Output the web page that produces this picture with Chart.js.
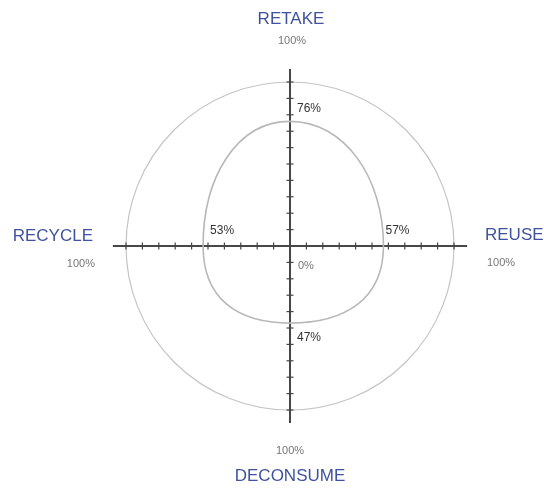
<!DOCTYPE html>
<html>
<head>
<meta charset="utf-8">
<script src="https://cdn.jsdelivr.net/npm/chart.js@4/dist/chart.umd.min.js"></script>
<style>
  html, body { margin: 0; padding: 0; background: #fff; }
  #wrap { width: 544px; height: 492px; position: relative; }
</style>
</head>
<body>
<div id="wrap"><canvas id="radarChart"></canvas></div>
<script>
// chart data
const categories = ["RETAKE", "REUSE", "DECONSUME", "RECYCLE"];
const values = [76, 57, 47, 53];
const maxLabels = ["100%", "100%", "100%", "100%"];
const centerLabel = "0%";

const blue = "#3f52a0";

// cross axes with tick marks, value labels and category labels
const decorPlugin = {
    id: "decor",
    beforeDatasetsDraw(chart) {
        const r = chart.scales.r;
        const ctx = chart.ctx;
        ctx.save();
        // axis lines, a bit past the outer ring
        ctx.strokeStyle = "#474747";
        ctx.lineWidth = 2;
        for (let i = 0; i < 2; i++) {
            const a = r.getPointPositionForValue(i, 108);
            const b = r.getPointPositionForValue(i + 2, 108);
            ctx.beginPath();
            ctx.moveTo(a.x, a.y);
            ctx.lineTo(b.x, b.y);
            ctx.stroke();
        }
        // tick marks every step
        ctx.lineWidth = 1.2;
        ctx.strokeStyle = "#444";
        r.ticks.forEach(t => {
            if (t.value === 0) return;
            for (let i = 0; i < categories.length; i++) {
                const p = r.getPointPositionForValue(i, t.value);
                const horiz = (i % 2 === 0);
                ctx.beginPath();
                if (horiz) { ctx.moveTo(p.x - 3.5, p.y); ctx.lineTo(p.x + 3.5, p.y); }
                else { ctx.moveTo(p.x, p.y - 3.5); ctx.lineTo(p.x, p.y + 3.5); }
                ctx.stroke();
            }
        });
        ctx.restore();
    },
    afterDraw(chart) {
        const r = chart.scales.r;
        const ctx = chart.ctx;
        ctx.save();
        ctx.textBaseline = "middle";

        // value labels
        ctx.font = "12px 'Liberation Sans', Arial, sans-serif";
        ctx.fillStyle = "#333";
        const vOff = [[7, -13, "left"], [2, -15, "left"], [7, 15, "left"], [7, -15, "left"]];
        values.forEach((v, i) => {
            const p = r.getPointPositionForValue(i, v);
            ctx.textAlign = vOff[i][2];
            ctx.fillText(v + "%", p.x + vOff[i][0], p.y + vOff[i][1]);
        });
        const c = r.getPointPositionForValue(0, 0);
        ctx.fillStyle = "#777";
        ctx.font = "11px 'Liberation Sans', Arial, sans-serif";
        ctx.textAlign = "left";
        ctx.fillText(centerLabel, c.x + 8, c.y + 20);

        // category labels and max labels
        const catFont = "17px 'Liberation Sans', Arial, sans-serif";
        const maxFont = "11px 'Liberation Sans', Arial, sans-serif";
        const place = [
            { cx: 1, cy: -63, mx: 2, my: -41, align: "center" },
            { cx: 31, cy: -11, mx: 33, my: 17, align: "left" },
            { cx: 0, cy: 66, mx: 0, my: 41, align: "center" },
            { cx: -33, cy: -10, mx: -31, my: 18, align: "right" }
        ];
        categories.forEach((name, i) => {
            const p = r.getPointPositionForValue(i, r.max);
            const o = place[i];
            ctx.textAlign = o.align;
            ctx.font = catFont;
            ctx.fillStyle = blue;
            ctx.fillText(name, p.x + o.cx, p.y + o.cy);
            ctx.font = maxFont;
            ctx.fillStyle = "#777";
            ctx.fillText(maxLabels[i], p.x + o.mx, p.y + o.my);
        });
        ctx.restore();
    }
};

new Chart(document.getElementById("radarChart"), {
    type: "radar",
    data: {
        labels: categories,
        datasets: [{
            data: values,
            borderColor: "#b8b8b8",
            borderWidth: 1.6,
            backgroundColor: "transparent",
            fill: false,
            pointRadius: 0,
            tension: 0.6
        }]
    },
    options: {
        responsive: true,
        maintainAspectRatio: false,
        animation: false,
        layout: { padding: { left: 126, right: 90, top: 82, bottom: 82 } },
        plugins: { legend: { display: false }, tooltip: { enabled: false } },
        scales: {
            r: {
                min: 0,
                max: 100,
                ticks: { stepSize: 10, display: false },
                grid: {
                    circular: true,
                    lineWidth: 1.2,
                    color: ctx => ctx.tick && ctx.tick.value === 100 ? "#c4c4c4" : "transparent"
                },
                angleLines: { display: false },
                pointLabels: { display: false }
            }
        }
    },
    plugins: [decorPlugin]
});
</script>
</body>
</html>
